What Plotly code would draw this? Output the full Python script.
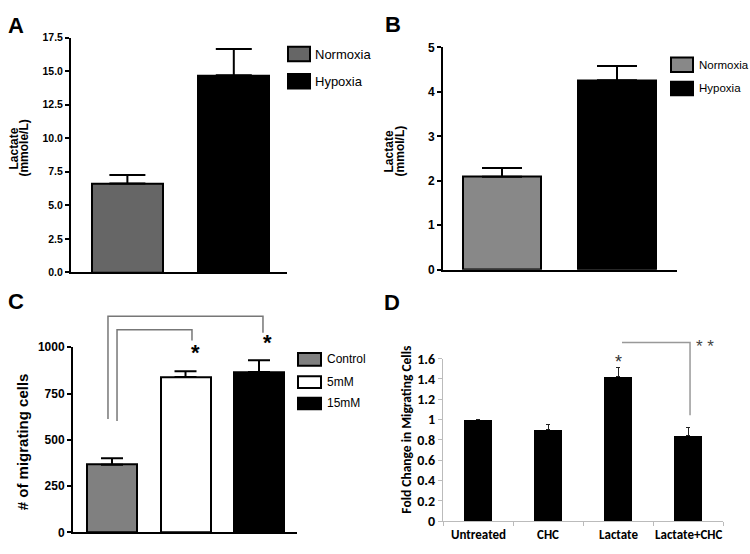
import plotly.graph_objects as go

W, H = 750, 554

# ---------------- data ----------------
a_cats = ["Normoxia", "Hypoxia"]
a_vals = [6.63, 14.7]
a_err = [0.63, 1.96]
a_ticks = [0, 2.5, 5.0, 7.5, 10.0, 12.5, 15.0, 17.5]

b_cats = ["Normoxia", "Hypoxia"]
b_vals = [2.09, 4.26]
b_err = [0.20, 0.32]
b_ticks = [0, 1, 2, 3, 4, 5]

c_cats = ["Control", "5mM", "15mM"]
c_vals = [366, 839, 866]
c_err = [35, 32, 64]
c_ticks = [0, 250, 500, 750, 1000]

d_cats = ["Untreated", "CHC", "Lactate", "Lactate+CHC"]
d_vals = [1.0, 0.90, 1.42, 0.84]
d_err = [0.0, 0.05, 0.09, 0.08]
d_ticks = [0, 0.2, 0.4, 0.6, 0.8, 1, 1.2, 1.4, 1.6]

a_colors = ["#666666", "#000000"]
b_colors = ["#888888", "#000000"]
c_colors = ["#808080", "#ffffff", "#000000"]

# ---------------- helpers ----------------
def px(x):
    return x / W

def py(y):
    return 1 - y / H

ARIAL = "Liberation Sans, Arial, sans-serif"
NARROW = "Liberation Sans Narrow, Arial Narrow, Liberation Sans, sans-serif"
CALIBRI = "Carlito, Open Sans, sans-serif"

# axis geometry (pixels)
geo = {
    "a": dict(x0=71, x1=287, y0=272.7, y1=30.7, xr=[-0.53, 1.5], yr=[0, 17.5]),
    "b": dict(x0=443, x1=677, y0=270, y1=40.7, xr=[-0.513, 1.522], yr=[0, 5]),
    "c": dict(x0=73, x1=297, y0=541, y1=350, xr=[-0.531, 2.517], yr=[0, 1000]),
    "d": dict(x0=443, x1=723, y0=529.3, y1=361.7, xr=[-0.5, 3.5], yr=[0, 1.6]),
}

def to_paper(p, xv, yv):
    g = geo[p]
    fx = (xv - g["xr"][0]) / (g["xr"][1] - g["xr"][0])
    fy = (yv - g["yr"][0]) / (g["yr"][1] - g["yr"][0])
    X = g["x0"] + fx * (g["x1"] - g["x0"])
    Y = g["y0"] + fy * (g["y1"] - g["y0"])
    return px(X), py(Y)

fig = go.Figure()

def err(arr, w, color="black", th=2):
    return dict(type="data", symmetric=False, array=arr, arrayminus=[0] * len(arr),
                width=w, thickness=th, color=color, visible=True)

fig.add_trace(go.Bar(x=list(range(len(a_vals))), y=a_vals, width=0.667,
                     marker=dict(color=a_colors, line=dict(color="black", width=2)),
                     error_y=err(a_err, 18), xaxis="x", yaxis="y", showlegend=False))
fig.add_trace(go.Bar(x=list(range(len(b_vals))), y=b_vals, width=0.678,
                     marker=dict(color=b_colors, line=dict(color="black", width=2)),
                     error_y=err(b_err, 20), xaxis="x2", yaxis="y2", showlegend=False))
fig.add_trace(go.Bar(x=list(range(len(c_vals))), y=c_vals, width=0.68,
                     marker=dict(color=c_colors, line=dict(color="black", width=2)),
                     error_y=err(c_err, 11), xaxis="x3", yaxis="y3", showlegend=False))
fig.add_trace(go.Bar(x=list(range(len(d_vals))), y=d_vals, width=0.4,
                     marker=dict(color="black", line=dict(color="black", width=0)),
                     error_y=err(d_err, 2, "#222222", 1), xaxis="x4", yaxis="y4", showlegend=False))

def xax(p, anchor, **kw):
    g = geo[p]
    d = dict(domain=[px(g["x0"]), px(g["x1"])], range=g["xr"], anchor=anchor,
             showgrid=False, zeroline=False, showline=True, linecolor="black", linewidth=2,
             ticks="", showticklabels=False, fixedrange=True)
    d.update(kw)
    return d

def yax(p, anchor, ticks, fmt, font, **kw):
    g = geo[p]
    d = dict(domain=[py(g["y0"]), py(g["y1"])], range=g["yr"], anchor=anchor,
             showgrid=False, zeroline=False, showline=True, linecolor="black", linewidth=2,
             ticks="outside", ticklen=4, tickwidth=2, tickcolor="black",
             tickvals=ticks, tickformat=fmt, tickfont=font, fixedrange=True)
    d.update(kw)
    return d

fig.update_layout(
    width=W, height=H, margin=dict(l=0, r=0, t=0, b=0),
    paper_bgcolor="white", plot_bgcolor="white", bargap=0,
    xaxis=xax("a", "y"),
    yaxis=yax("a", "x", a_ticks, ".1f", dict(family=ARIAL, size=10.5, color="black", weight="bold")),
    xaxis2=xax("b", "y2"),
    yaxis2=yax("b", "x2", b_ticks, "d", dict(family=ARIAL, size=12, color="black", weight="bold")),
    xaxis3=xax("c", "y3"),
    yaxis3=yax("c", "x3", c_ticks, "d", dict(family=ARIAL, size=12, color="black", weight="bold")),
    xaxis4=xax("d", "y4", linecolor="#bbbbbb", linewidth=1, ticks="outside", ticklen=4,
               tickwidth=1, tickcolor="#bbbbbb", showticklabels=True,
               tickvals=[-0.5, 0.5, 1.5, 2.5, 3.5], ticktext=["", "", "", "", ""]),
    yaxis4=yax("d", "x4", d_ticks, "", dict(family=CALIBRI, size=14, color="black", weight="bold"),
               linecolor="#bbbbbb", linewidth=1, tickcolor="#bbbbbb", tickwidth=1, ticklen=4),
)

annotations = []
shapes = []

def text(x, y, t, size, family=ARIAL, bold=False, color="black", xanchor="center",
         yanchor="middle", angle=0):
    annotations.append(dict(x=x, y=y, xref="paper", yref="paper", text=t, showarrow=False,
                            xanchor=xanchor, yanchor=yanchor, textangle=angle,
                            font=dict(family=family, size=size, color=color,
                                      weight="bold" if bold else "normal")))

# panel letters
text(px(16), py(18), "A", 22, bold=True)
text(px(393), py(17), "B", 22, bold=True)
text(px(16), py(303), "C", 22, bold=True)
text(px(392), py(304), "D", 22, bold=True)

# y-axis titles
text(px(14), py(145), "Lactate", 12, bold=True, angle=-90)
text(px(24), py(145), "(mmole/L)", 12, bold=True, angle=-90)
text(px(389), py(148), "Lactate", 12, bold=True, angle=-90)
text(px(400), py(148), "(mmol/L)", 12, bold=True, angle=-90)
text(px(22), py(448), "# of migrating cells", 15, bold=True, angle=-90)
text(px(407), py(435), "Fold Change in Migrating Cells", 13.5, family=CALIBRI, bold=True, angle=-90)

# D category labels
for i, c in enumerate(d_cats):
    xp, _ = to_paper("d", i, 0)
    text(xp, py(543), c, 13, family=CALIBRI, bold=True)

# legends (boxes + text)
def legend(entries, colors, x0, x1, boxes, tx, size):
    for name, col, (y0, y1) in zip(entries, colors, boxes):
        shapes.append(dict(type="rect", xref="paper", yref="paper", x0=px(x0), x1=px(x1),
                           y0=py(y1), y1=py(y0), fillcolor=col,
                           line=dict(color="black", width=2)))
        text(px(tx), py((y0 + y1) / 2), name, size, family=NARROW, xanchor="left")

legend(a_cats, a_colors, 288, 310, [(40, 55), (68, 83)], 313, 13)
legend(b_cats, b_colors, 671, 693, [(51, 66), (76, 90)], 697, 11.5)
legend(c_cats, c_colors, 298, 321, [(356, 369), (380, 392), (402, 414)], 325, 12)

# significance brackets (data units)
def bracket(p, xa, ya, xb, yb, ytop, color, width):
    x1p, y1p = to_paper(p, xa, ya)
    x2p, y2p = to_paper(p, xb, yb)
    _, ytp = to_paper(p, xa, ytop)
    path = f"M {x1p} {y1p} L {x1p} {ytp} L {x2p} {ytp} L {x2p} {y2p}"
    shapes.append(dict(type="path", xref="paper", yref="paper", path=path,
                       line=dict(color=color, width=width)))

bracket("c", -0.055, 612, 2.054, 1078, 1168, "#777777", 1.5)
bracket("c", 0.068, 602, 1.088, 1037, 1094, "#777777", 1.5)
for xv, yv in [(1.13, 970), (2.11, 1027)]:
    xp, yp = to_paper("c", xv, yv)
    text(xp, yp, "*", 22, bold=True)

bracket("d", 2.057, 1.759, 3.029, 1.043, 1.759, "#999999", 1.5)
xp, yp = to_paper("d", 2.0, 1.57)
text(xp, yp, "*", 18, color="#333333")
xp, yp = to_paper("d", 3.24, 1.72)
text(xp, yp, "* *", 17, color="#444444")

fig.update_layout(annotations=annotations, shapes=shapes)
fig.write_html("out.html", config={"displayModeBar": False},
               post_script="document.body.style.margin='0';")
